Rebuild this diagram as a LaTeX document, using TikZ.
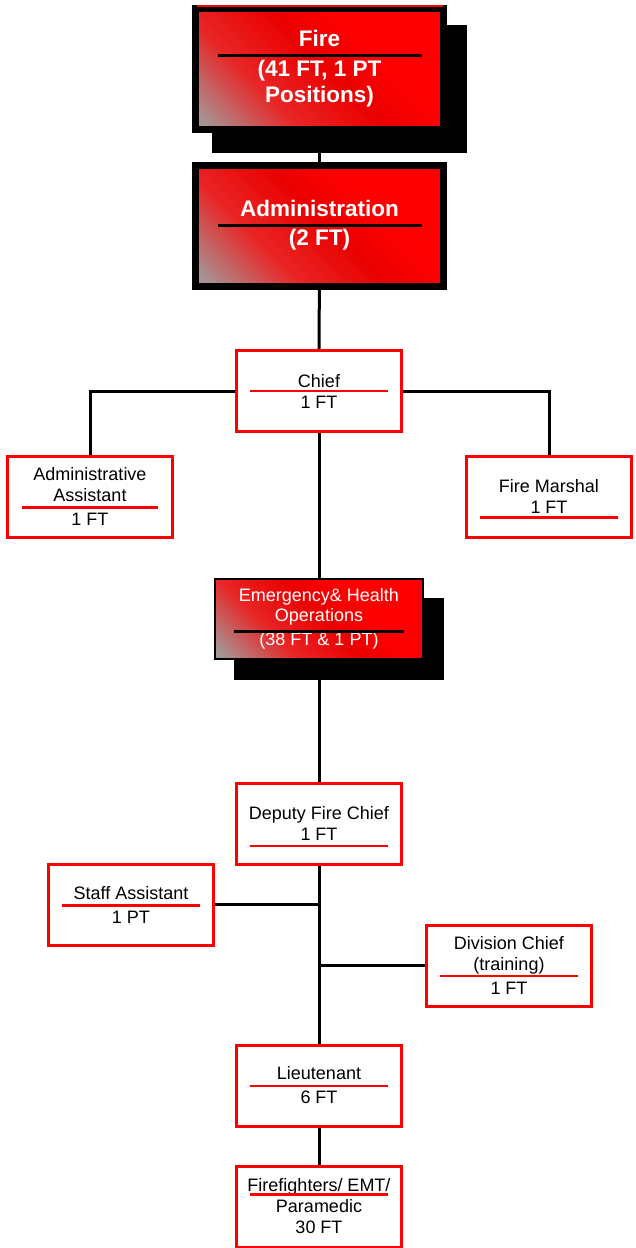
\documentclass[tikz,border=0pt]{standalone}
\usepackage{xcolor}
\usepackage{fontspec}
\setmainfont{Liberation Sans}
\usepackage{tikz}
\usetikzlibrary{positioning}

\definecolor{shadegray}{RGB}{165,150,150}
\pgfdeclarehorizontalshading{gradred}{100bp}{color(0bp)=(shadegray); color(17bp)=(shadegray); color(35bp)=(red!75!shadegray); color(52bp)=(red!92!black); color(64bp)=(red); color(100bp)=(red)}

\begin{document}
\begin{tikzpicture}[x=1pt, y=-1pt]
\tikzstyle{head} = [rectangle, minimum width=248pt, minimum height=121pt, inner sep=0pt, align=center, draw=black, line width=7pt, shading=gradred, shading angle=45, text=white, font=\bfseries\fontsize{22.5}{26}\selectfont]
\tikzstyle{ops} = [rectangle, minimum width=208pt, minimum height=80pt, inner sep=0pt, align=center, draw=black, line width=2pt, shading=gradred, shading angle=45, text=white, font=\fontsize{18}{19.5}\selectfont]
\tikzstyle{shadow} = [preaction={draw=black, fill=black, transform canvas={xshift=20pt, yshift=-20pt}}]
\tikzstyle{post} = [rectangle, minimum width=165pt, minimum height=81pt, inner sep=0pt, align=center, draw=red, line width=3pt, fill=white, font=\fontsize{18}{21}\selectfont]
\tikzstyle{sep} = [red, line width=1.5pt]
\tikzstyle{sepbold} = [red, line width=3pt]
\tikzstyle{bar} = [black, line width=3pt]
\tikzstyle{link} = [black, line width=3pt]

\useasboundingbox (0,0) rectangle (635,1248);

% top of the chart
\node (fire) [head, shadow] at (319.5,69) {Fire\\[4pt](41 FT, 1 PT\\Positions)};
\node (admin) [head] at (319.5,225.5) {Administration\\[3pt](2 FT)};
\draw [red, line width=1.5pt] (197,6) -- (443,6);
\draw [bar] (218,55) -- (422,55);
\draw [bar] (218,225) -- (422,225);

\node (chief) [post] at (319,391) {Chief\\1 FT};
\node (aa) [post] at (90,496.5) {Administrative\\Assistant\\[3pt]1 FT};
\node (fm) [post] at (549,496.5) {Fire Marshal\\1 FT};
\draw [sep] (250,391) -- (388,391);
\draw [sepbold] (22,507) -- (158,507);
\draw [sepbold] (480,517) -- (618,517);

\node (ems) [ops, shadow] at (319,619) {Emergency\& Health\\Operations\\[5pt](38 FT \& 1 PT)};
\draw [bar] (234,631) -- (404,631);

% lower half
\node (deputy) [post] at (319,823.5) {Deputy Fire Chief\\1 FT};
\node (staff) [post] at (131,904.5) {Staff Assistant\\[3pt]1 PT};
\node (division) [post] at (509,965.5) {Division Chief\\(training)\\[3pt]1 FT};
\node (lieut) [post] at (319,1085.5) {Lieutenant\\[3pt]6 FT};
\node (ff) [post] at (319,1206.5) {Firefighters/ EMT/\\Paramedic\\30 FT};
\draw [sep] (250,846) -- (388,846);
\draw [sepbold] (62,905) -- (200,905);
\draw [sep] (440,976) -- (578,976);
\draw [sep] (250,1086) -- (388,1086);
\draw [sepbold] (250,1194) -- (388,1194);

\draw [link] (fire) -- (admin);
\draw [link] (admin) -- (chief);
\draw [link] (chief.west) -| (aa.north);
\draw [link] (chief.east) -| (fm.north);
\draw [link] (chief) -- (ems);
\draw [link] (ems) -- (deputy);
\draw [link] (deputy) -- (lieut);
\draw [link] (staff.east) -- (staff.east -| deputy.south);
\draw [link] (division.west) -- (division.west -| deputy.south);
\draw [link] (lieut) -- (ff);

\end{tikzpicture}
\end{document}
